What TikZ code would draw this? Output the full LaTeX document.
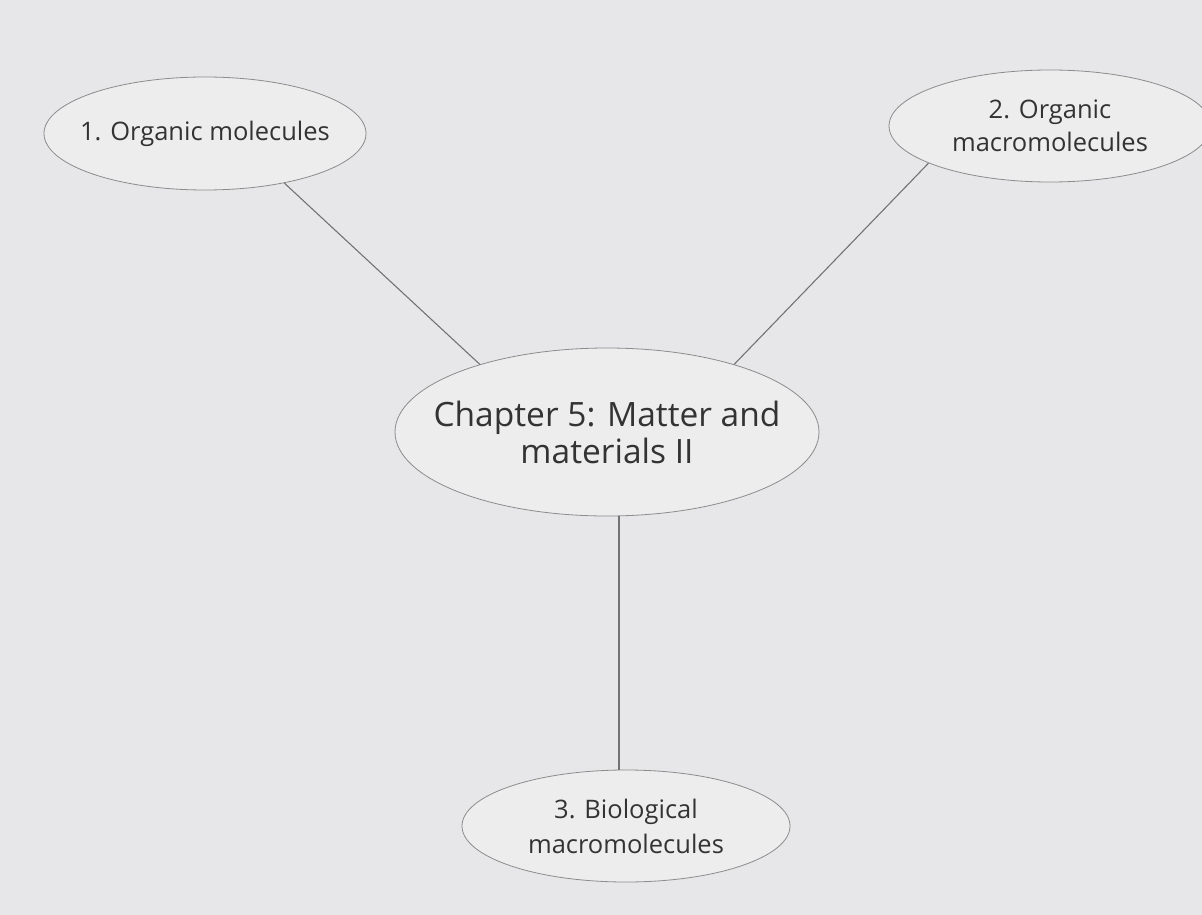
\documentclass[tikz,border=0pt]{standalone}
\usepackage{fontspec}
\setmainfont{Open Sans}
\usepackage{xcolor}
\usetikzlibrary{shapes.geometric,positioning}
\definecolor{paper}{HTML}{E7E7EA}
\definecolor{bubble}{HTML}{EDEDED}
\definecolor{ink}{HTML}{333333}

\begin{document}
\begin{tikzpicture}[x=1pt,y=-1pt,
  topic/.style={ellipse, draw=black!45, line width=0.8pt, fill=bubble, text=ink, align=center, inner xsep=-60pt, inner ysep=0pt, font=\fontsize{25.5}{33}\selectfont},
  link/.style={draw=black!55, line width=1.1pt}
]
\useasboundingbox[fill=paper] (0,0) rectangle (1202,915);
\clip (0,0) rectangle (1202,915);

\node[topic, minimum width=424pt, minimum height=168pt, font=\fontsize{33.5}{37}\selectfont] (chapter) at (607,432) {Chapter 5: Matter and\\materials II};
\node[topic, minimum width=322pt, minimum height=113pt] (organic) at (205,133.5) {1. Organic molecules};
\node[topic, minimum width=322pt, minimum height=112pt] (macro) at (1050,126) {2. Organic\\macromolecules};
\node[topic, minimum width=328pt, minimum height=112pt, font=\fontsize{25.5}{35}\selectfont] (bio) at (626,826) {3. Biological\\macromolecules};

\draw[link] (organic.-32) -- (chapter.152.6);
\draw[link] (macro.197.3) -- (chapter.28.1);
\draw[link] ([xshift=-7pt]bio.north |- chapter.south) -- ([xshift=-7pt]bio.north);
\end{tikzpicture}
\end{document}
